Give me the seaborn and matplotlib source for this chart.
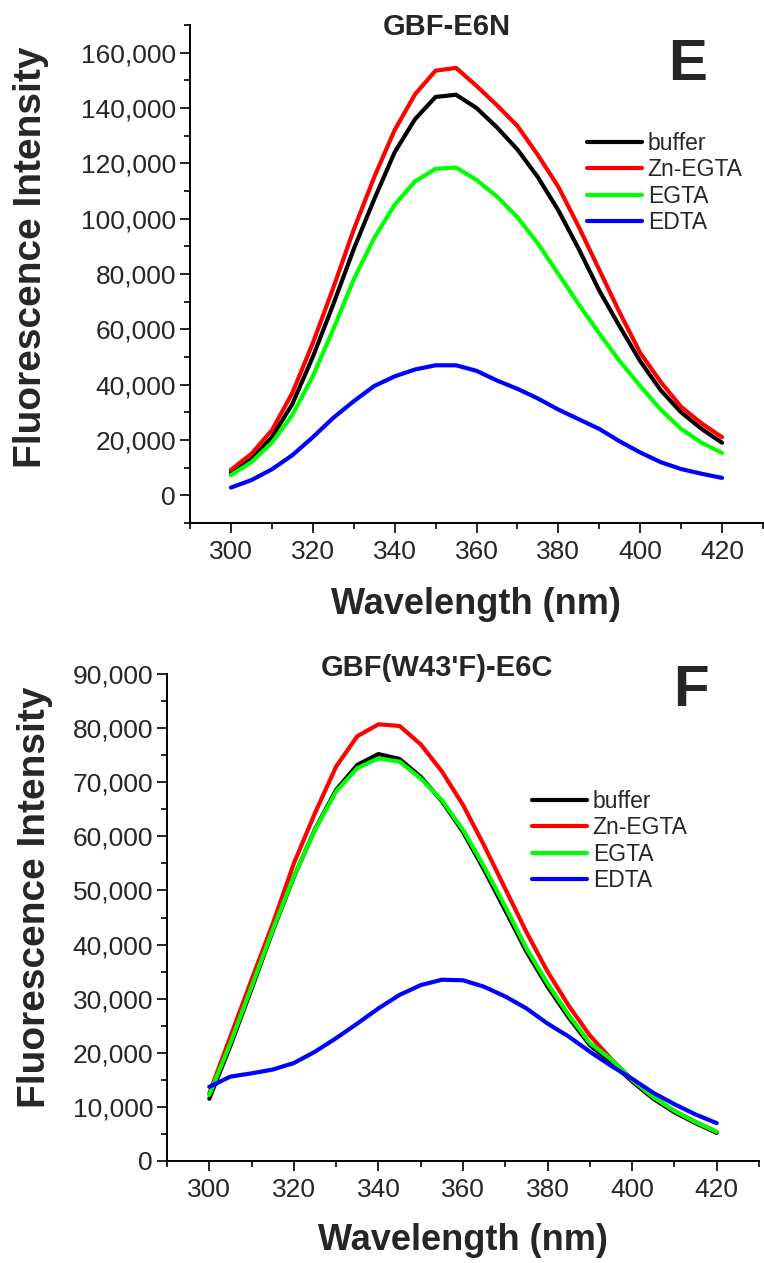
import matplotlib
matplotlib.use('Agg')
import matplotlib.pyplot as plt
import matplotlib.ticker as mticker
import seaborn as sns
import pandas as pd

# wavelength grid (nm)
wavelength = [300, 305, 310, 315, 320, 325, 330, 335, 340, 345, 350, 355, 360,
              365, 370, 375, 380, 385, 390, 395, 400, 405, 410, 415, 420]
conditions = ['buffer', 'Zn-EGTA', 'EGTA', 'EDTA']
colors = ['#000000', '#ff0000', '#00ff00', '#0000ff']

# panel E : GBF-E6N
e_buffer = [8300, 13000, 21000, 33000, 50000, 69000, 89000, 107000, 124000, 136000, 144000, 144800, 140000,
            133000, 125000, 115000, 103000, 89000, 74000, 61000, 48500, 38000, 30000, 24000, 19000]
e_zn_egta = [9200, 15000, 23500, 37000, 55000, 75000, 96000, 115000, 132000, 145000, 153500, 154500, 148000,
             141000, 133500, 123000, 111500, 97000, 81500, 66000, 51500, 41000, 32000, 26000, 21000]
e_egta = [7300, 12000, 19000, 29000, 43000, 60000, 78000, 93000, 105000, 113500, 118000, 118500, 114000,
          108000, 100500, 91000, 80000, 69000, 58500, 48500, 39500, 31000, 24000, 19000, 15300]
e_edta = [2800, 5500, 9400, 14500, 21000, 28000, 34000, 39500, 43000, 45500, 47000, 47000, 45000,
          41500, 38500, 35000, 31000, 27500, 24000, 19500, 15500, 12000, 9500, 7800, 6300]

# panel F : GBF(W43'F)-E6C
f_buffer = [11500, 21300, 31800, 42500, 52500, 61300, 68600, 73200, 75200, 74300, 71000, 66500, 60800,
            53800, 46300, 38700, 32200, 26500, 21400, 18300, 14700, 11500, 9000, 7000, 5200]
f_zn_egta = [12500, 23000, 33500, 43800, 55000, 64300, 72900, 78500, 80700, 80400, 77000, 72000, 65800,
             58300, 50300, 42300, 35000, 28700, 23200, 18900, 15000, 11800, 9200, 7200, 5400]
f_egta = [12200, 21800, 32200, 42700, 52600, 61200, 68300, 72600, 74400, 73800, 70700, 66700, 61200,
          54400, 47000, 39300, 32800, 27000, 21800, 18800, 15000, 11800, 9300, 7200, 5400]
f_edta = [13700, 15600, 16200, 16900, 18100, 20200, 22700, 25400, 28200, 30700, 32500, 33500, 33400,
          32200, 30400, 28200, 25400, 23000, 20200, 17600, 15200, 12600, 10500, 8600, 7000]

W, H = 764, 1263


def fx(x):
    return x / W


def fy(y):
    return 1 - y / H


def make_df(series):
    rows = []
    for name, vals in zip(conditions, series):
        for wl, v in zip(wavelength, vals):
            rows.append([wl, v, name])
    return pd.DataFrame(rows, columns=['wavelength', 'intensity', 'condition'])


def draw_panel(ax, df, ylim, major, minor, title, title_xy, letter, letter_xy,
               leg_xy, ylab_xy, xlab_xy):
    for name, col in zip(conditions, colors):
        sub = df[df['condition'] == name]
        sns.lineplot(x='wavelength', y='intensity', data=sub, color=col, label=name,
                     linewidth=3, ax=ax)
    ax.set_xlim(290, 430)
    ax.set_ylim(*ylim)
    ax.set_xticks([300, 320, 340, 360, 380, 400, 420])
    ax.xaxis.set_minor_locator(mticker.MultipleLocator(10))
    ax.set_yticks(list(range(0, ylim[1] if ylim[1] % major else ylim[1] + 1, major)))
    ax.yaxis.set_minor_locator(mticker.MultipleLocator(minor))
    ax.yaxis.set_major_formatter(mticker.StrMethodFormatter('{x:,.0f}'))
    ax.tick_params(which='major', length=7, width=1.4, labelsize=19, pad=3)
    ax.tick_params(which='minor', length=4, width=1.4)
    ax.tick_params(axis='x', pad=5)
    for s in ['left', 'bottom']:
        ax.spines[s].set_linewidth(1.4)
        ax.spines[s].set_color('black')
    sns.despine(ax=ax)

    ax.set_xlabel('Wavelength (nm)', fontsize=26, fontweight='bold')
    ax.set_ylabel('Fluorescence Intensity', fontsize=28, fontweight='bold')
    ax.xaxis.label.set_va('center')
    ax.yaxis.label.set_va('center')
    ax.xaxis.set_label_coords(fx(xlab_xy[0]), fy(xlab_xy[1]), transform=ax.figure.transFigure)
    ax.yaxis.set_label_coords(fx(ylab_xy[0]), fy(ylab_xy[1]), transform=ax.figure.transFigure)

    fig = ax.figure
    fig.text(fx(title_xy[0]), fy(title_xy[1]), title, fontsize=21, fontweight='bold',
             ha='center', va='center')
    fig.text(fx(letter_xy[0]), fy(letter_xy[1]), letter, fontsize=42, fontweight='bold',
             ha='center', va='center')

    ax.legend(loc='upper left', bbox_to_anchor=(fx(leg_xy[0]), fy(leg_xy[1])),
              bbox_transform=fig.transFigure, frameon=False, fontsize=16.5,
              handlelength=2.4, handletextpad=0.25, labelspacing=0.15,
              borderpad=0, borderaxespad=0)


sns.set_style('ticks')
plt.rcParams['font.family'] = ['Liberation Sans', 'DejaVu Sans']

fig = plt.figure(figsize=(W / 100, H / 100), dpi=100)
ax1 = fig.add_axes([fx(190), fy(523), (763 - 190) / W, (523 - 25) / H])
ax2 = fig.add_axes([fx(167), fy(1161), (759 - 167) / W, (1161 - 674) / H])

draw_panel(ax1, make_df([e_buffer, e_zn_egta, e_egta, e_edta]), (-10000, 170000), 20000, 10000,
           'GBF-E6N', (447, 27), 'E', (688, 65), (587, 132), (31, 257), (476, 605))
draw_panel(ax2, make_df([f_buffer, f_zn_egta, f_egta, f_edta]), (0, 90000), 10000, 5000,
           "GBF(W43'F)-E6C", (437, 668), 'F', (691, 691), (532, 790), (35, 897), (463, 1240))

fig.savefig('out.png', dpi=100)
